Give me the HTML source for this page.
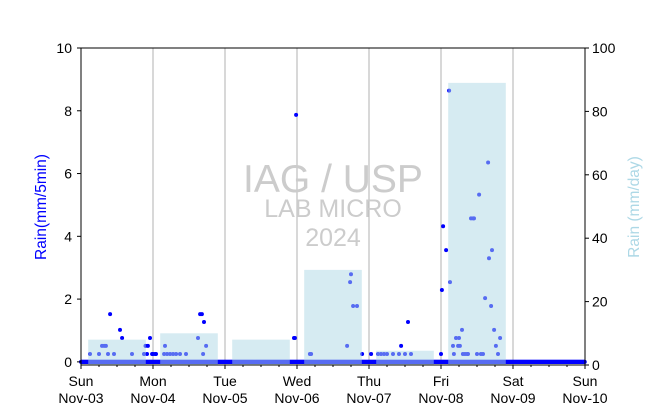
<!DOCTYPE html>
<html><head><meta charset="utf-8"><style>
body{margin:0;background:#fff;font-family:"Liberation Sans",sans-serif}
svg{display:block}
</style></head><body>
<svg id="chart" width="650" height="409" xmlns="http://www.w3.org/2000/svg">
<g id="grid"></g>
<g id="marks"></g>
<g id="bars"></g>
<g fill="#cccccc" text-anchor="middle">
<text x="333" y="192" font-size="39">IAG / USP</text>
<text x="333" y="217" font-size="25">LAB MICRO</text>
<text x="333" y="246" font-size="25">2024</text>
</g>
<rect x="81" y="48" width="504" height="317" fill="none" stroke="#000" stroke-width="1"/>
<g id="axes"></g>
<text transform="translate(46,207) rotate(-90)" text-anchor="middle" font-size="15.5" fill="#0000ff">Rain(mm/5min)</text>
<text transform="translate(639,207) rotate(-90)" text-anchor="middle" font-size="15.5" fill="#add8e6">Rain (mm/day)</text>
</svg>
<script>
const dayLabels=["Sun","Mon","Tue","Wed","Thu","Fri","Sat","Sun"];
const dateLabels=["Nov-03","Nov-04","Nov-05","Nov-06","Nov-07","Nov-08","Nov-09","Nov-10"];
const leftTicks=[0,2,4,6,8,10];
const rightTicks=[0,20,40,60,80,100];
const dailyRain=[8,10,8,30,4.5,89,0];
const zeroRanges=[[0,168]];
const pointHours=[3,6,7,7.7,8.3,9,9.7,11,13,13.7,17,21,21.5,22,22.3,23,23.7,24,24.7,25,28,27.7,28.7,29.7,30.7,31.7,33,35,39,39.7,40.3,40.7,41,41.7,71,71.3,71.7,76.3,76.7,88.7,89.7,90,90.7,92,93.7,96.7,99,100,101,102,104,106,106.7,108,109,110,120,120.3,120.7,121.7,122.7,123,124,124.3,125,125.7,126,126.3,127,127.3,128,128.7,129,130,130.7,131,132,132.7,133.3,134,134.7,135.7,136,136.7,137,137.7,138.3,139,139.7];
const pointVals=[0.25,0.25,0.51,0.51,0.51,0.25,1.52,0.25,1.02,0.76,0.25,0.25,0.51,0.25,0.51,0.76,0.25,0.25,0.25,0.25,0.51,0.25,0.25,0.25,0.25,0.25,0.25,0.25,0.76,1.52,1.52,0.25,1.27,0.51,0.76,0.76,7.87,0.25,0.25,0.51,2.54,2.79,1.78,1.78,0.25,0.25,0.25,0.25,0.25,0.25,0.25,0.25,0.51,0.25,1.27,0.25,0.25,2.29,4.32,3.56,8.64,2.54,0.51,0.25,0.76,0.51,0.76,0.51,1.02,0.25,0.25,0.25,0.25,4.57,4.57,4.57,0.25,5.33,0.25,0.25,2.03,6.35,3.3,1.78,3.56,1.02,0.51,0.25,0.76,0.25,0.25];
const NS="http://www.w3.org/2000/svg";
const x0=81,pxPerHour=3,yTop=48,yBot=365;
function xs(h){return x0+h*pxPerHour;}
function yl(v){return yBot-(v+0.1)/10.1*(yBot-yTop);}
function yr(v){return yBot-v/100*(yBot-yTop);}
function mk(tag,attrs,parent){const e=document.createElementNS(NS,tag);for(const k in attrs)e.setAttribute(k,attrs[k]);parent.appendChild(e);return e;}
const grid=document.getElementById('grid'),marks=document.getElementById('marks'),bars=document.getElementById('bars'),axes=document.getElementById('axes');
for(let d=1;d<7;d++){const l=mk('line',{x1:xs(d*24),x2:xs(d*24),y1:yTop,y2:yBot,stroke:'#b0b0b0','stroke-width':1},grid);

}
zeroRanges.forEach(r=>{for(let h=r[0];h<=r[1];h+=5/60){const c=mk('circle',{cx:xs(h),cy:yl(0),r:2,fill:'#0000ff'},marks);

}});
pointHours.forEach((h,i)=>{const c=mk('circle',{cx:xs(h),cy:yl(pointVals[i]),r:2,fill:'#0000ff'},marks);

});
dailyRain.forEach((v,i)=>{const r=mk('rect',{x:xs(i*24+2.4),y:yr(v),width:19.2*pxPerHour,height:yBot-yr(v),fill:'#add8e6','fill-opacity':0.5},bars);

});
leftTicks.forEach(v=>{const y=yl(v);mk('line',{x1:77,x2:81,y1:y,y2:y,stroke:'#000'},axes);
const t=mk('text',{x:72,y:y+5,'text-anchor':'end','font-size':14},axes);t.textContent=v;

});
rightTicks.forEach(v=>{const y=yr(v);mk('line',{x1:585,x2:589,y1:y,y2:y,stroke:'#000'},axes);
const t=mk('text',{x:592,y:y+5,'font-size':14},axes);t.textContent=v;

});
for(let h=0;h<=168;h+=6){const major=h%24===0;mk('line',{x1:xs(h),x2:xs(h),y1:yBot,y2:yBot+(major?4:2),stroke:'#000'},axes);}
dayLabels.forEach((d,i)=>{const t=mk('text',{x:xs(i*24),y:386,'text-anchor':'middle','font-size':14},axes);t.textContent=d;


const t2=mk('text',{x:xs(i*24),y:403,'text-anchor':'middle','font-size':14},axes);t2.textContent=dateLabels[i];

});
</script>
</body></html>
